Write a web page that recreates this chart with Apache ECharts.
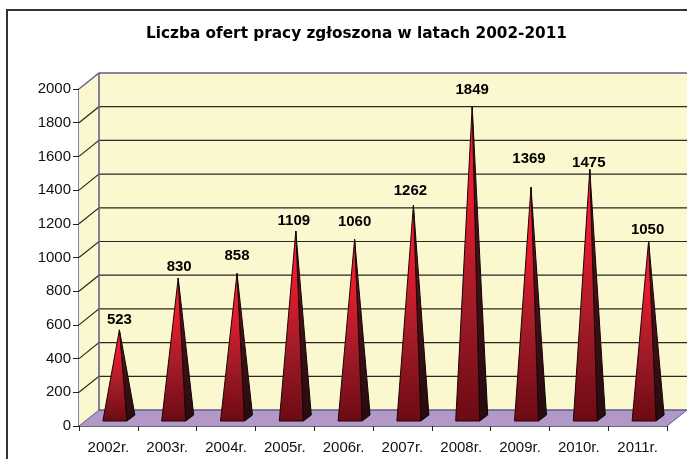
<!DOCTYPE html>
<html>
<head>
<meta charset="utf-8">
<style>html,body{margin:0;padding:0;background:#fff}#c{width:687px;height:459px}</style>
<script src="https://cdn.jsdelivr.net/npm/echarts@6/dist/echarts.min.js"></script>
</head>
<body>
<div id="c"></div>
<script>
var chartTitle = 'Liczba ofert pracy zgłoszona w latach 2002-2011';
var categories = ['2002r.','2003r.','2004r.','2005r.','2006r.','2007r.','2008r.','2009r.','2010r.','2011r.'];
var offers = [523,830,858,1109,1060,1262,1849,1369,1475,1050];
var gridValues = [200,400,600,800,1000,1200,1400,1600,1800,2000];
// manual placement of each value label relative to its peak (px), as in the reference
var labelLift = [10,11,18,10,18,14,17,28,7,11];
var labelShift = [0,1,0,-2,0,-3,0,-2,-1,-1];

var DX = 20, DY = -16;           // depth of the 3D box
var AXIS = '#5c5c8c';

var chart = echarts.init(document.getElementById('c'), null, {renderer:'canvas'});

function poly(points, style, z2) {
  return {type:'polygon', shape:{points:points}, style:style, z2:z2||0, silent:true};
}
function line(points, stroke, w, z2) {
  return {type:'polyline', shape:{points:points}, style:{stroke:stroke, lineWidth:w, fill:'none'}, z2:z2||0, silent:true};
}

function renderBox(params, api) {
  var cs = params.coordSys;
  var L = cs.x, R = cs.x + cs.width, B = cs.y + cs.height, T = cs.y;
  var kids = [];
  kids.push(poly([[L+DX,T+DY],[R+DX,T+DY],[R+DX,B+DY],[L+DX,B+DY]], {fill:'#fbf7cf'}));
  kids.push(poly([[L,T],[L+DX,T+DY],[L+DX,B+DY],[L,B]], {fill:'#fbf7cf'}));
  kids.push(poly([[L,B],[R,B],[R+DX,B+DY],[L+DX,B+DY]], {fill:'#b298c6'}));
  gridValues.forEach(function (v) {
    var y = api.coord([0, v])[1];
    var top = v === 2000;
    kids.push(line([[L,y],[L+DX,y+DY],[R+DX,y+DY]], top ? AXIS : '#2a2a22', top ? 1.3 : 1.2));
  });
  kids.push(line([[L+DX,T+DY],[L+DX,B+DY],[R+DX,B+DY]], AXIS, 1.5));
  kids.push(line([[L,B],[L+DX,B+DY]], AXIS, 1));
  kids.push(line([[R,B],[R+DX,B+DY]], AXIS, 1));
  return {type:'group', children:kids};
}

function renderPyramid(params, api) {
  var i = api.value(0), v = api.value(1);
  var p0 = api.coord([i, 0]);
  var pv = api.coord([i, v]);
  var fx = p0[0] + 6.5, fy = p0[1] - 5;
  var hw = 12;
  var apex = [pv[0] + 11, pv[1] - 8];
  var fl = [fx - hw, fy], fr = [fx + hw, fy], br = [fx + hw + 8, fy - 6];
  var front = {type:'linear', x:0, y:0, x2:0, y2:1, colorStops:[
    {offset:0, color:'#ff1c30'},{offset:0.3, color:'#e01c2c'},{offset:0.6, color:'#a41c28'},{offset:1, color:'#6c0a14'}]};
  var side = {type:'linear', x:0, y:0, x2:0, y2:1, colorStops:[
    {offset:0, color:'#8a101c'},{offset:0.4, color:'#4a0e16'},{offset:1, color:'#260c10'}]};
  return {type:'group', children:[
    poly([fr, br, apex], {fill:side, stroke:'#0e0608', lineWidth:1, lineJoin:'round'}, 1),
    poly([fl, fr, apex], {fill:front, stroke:'#160608', lineWidth:1, lineJoin:'round'}, 2),
    {type:'text', z2:5, silent:true, style:{
      text:String(v), x:apex[0] + labelShift[i], y:apex[1] - labelLift[i],
      align:'center', verticalAlign:'middle',
      font:'bold 15px "Liberation Sans", Arial, sans-serif', fill:'#000'}}
  ]};
}

chart.setOption({
  animation:false,
  backgroundColor:'#fff',
  title:{
    text:chartTitle, left:351.5, top:22, textAlign:'center',
    textStyle:{fontFamily:'"DejaVu Sans", Verdana, sans-serif', fontWeight:'bold', fontSize:15.3, color:'#000'}
  },
  grid:{left:79, right:20, top:89, bottom:33, containLabel:false},
  xAxis:{
    type:'category', data:categories, boundaryGap:true,
    axisLine:{show:true, onZero:false, lineStyle:{color:'#3a3a4a', width:1.5}},
    axisTick:{show:true, length:5, lineStyle:{color:'#222', width:1}, alignWithLabel:false},
    axisLabel:{color:'#111', fontFamily:'"Liberation Sans", Arial, sans-serif', fontSize:15, margin:14, interval:0},
    splitLine:{show:false}
  },
  yAxis:{
    type:'value', min:0, max:2000, interval:200,
    axisLine:{show:true, lineStyle:{color:AXIS, width:1.5}},
    axisTick:{show:true, length:6, lineStyle:{color:'#222', width:1}},
    axisLabel:{color:'#111', fontFamily:'"Liberation Sans", Arial, sans-serif', fontSize:15, margin:8, padding:[5,0,0,0],
      formatter:function (v) { return String(v); }},
    splitLine:{show:false}
  },
  graphic:[
    {type:'polyline', silent:true, z:100, shape:{points:[[7,459],[7,10],[687,10]]}, style:{stroke:'#333', lineWidth:2, fill:'none'}}
  ],
  series:[
    {type:'custom', z:1, coordinateSystem:'cartesian2d', clip:false, silent:true,
     renderItem:renderBox, data:[[0,0]], encode:{x:0,y:1}},
    {type:'custom', z:2, coordinateSystem:'cartesian2d', clip:false, silent:true,
     renderItem:renderPyramid, encode:{x:0,y:1},
     data:offers.map(function (v,i){return [i,v];})}
  ]
});
</script>
</body>
</html>
